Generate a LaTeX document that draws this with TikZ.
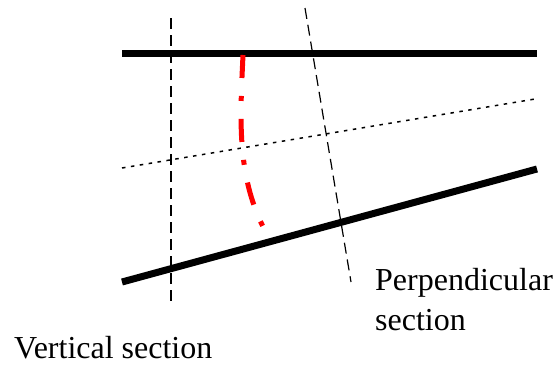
\documentclass[tikz,border=0pt]{standalone}
\usepackage{fontspec}
\setmainfont{Liberation Serif}
\begin{document}
\begin{tikzpicture}[x=1pt,y=-1pt,
  wall/.style={line width=7pt},
  vsec/.style={line width=1.5pt,dash pattern=on 11pt off 6pt},
  psec/.style={line width=1.2pt,dash pattern=on 11pt off 6pt},
  dotline/.style={line width=1.5pt,dash pattern=on 3.5pt off 5.5pt},
  redcurve/.style={red,line width=5pt,dash pattern=on 23pt off 18pt on 5pt off 18pt},
  lab/.style={inner sep=0pt,font=\fontsize{32}{40}\selectfont,align=left}]
\useasboundingbox (0,0) rectangle (559,365);
\coordinate (tl) at (122,53);
\coordinate (tr) at (537,53);
\coordinate (bl) at (122,282);
\coordinate (br) at (537,169);
\coordinate (vt) at (171,18);
\coordinate (vb) at (171,303);
\coordinate (pt) at (305,8);
\coordinate (pb) at (351,282);
\coordinate (dl) at (122,168);
\coordinate (dr) at (535,99);
\coordinate (rs) at (243,55);
\coordinate (re) at (268,236);
\draw[wall] (tl) -- (tr);
\draw[wall] (bl) -- (br);
\draw[vsec] (vt) -- (vb);
\draw[psec] (pt) -- (pb);
\draw[dotline] (dl) -- (dr);
\draw[redcurve] (rs) .. controls (240,120) and (236,180) .. (re);
\node[lab,anchor=base west] (vlab) at (14,358) {Vertical section};
\node[lab,anchor=base west] (plab) at (375,330) {Perpendicular\\section};
\end{tikzpicture}
\end{document}
